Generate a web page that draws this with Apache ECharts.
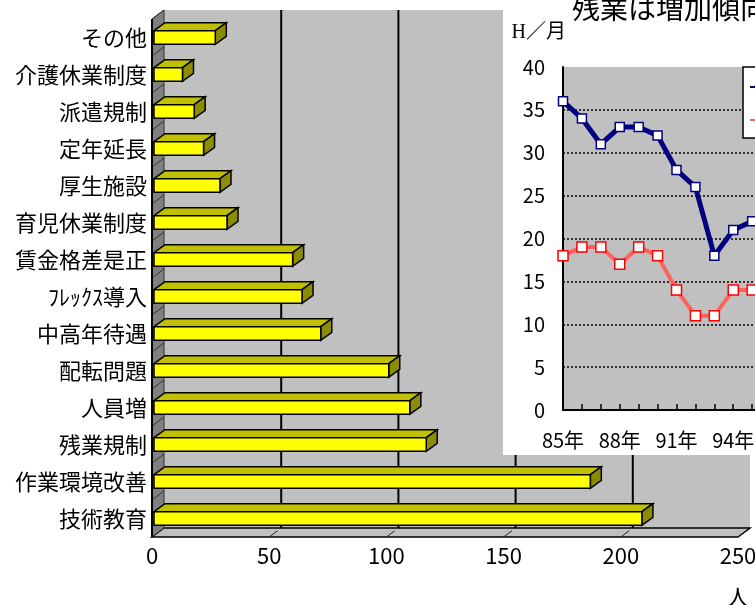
<!DOCTYPE html>
<html>
<head>
<meta charset="utf-8">
<script src="https://cdn.jsdelivr.net/npm/echarts@6/dist/echarts.min.js"></script>
<style>
  html, body { margin: 0; padding: 0; background: #fff; }
  #chart { width: 755px; height: 605px; }
</style>
</head>
<body>
<div id="chart"></div>
<script>
// 要望項目別の回答人数（上から順）
const items = ['その他', '介護休業制度', '派遣規制', '定年延長', '厚生施設', '育児休業制度',
  '賃金格差是正', 'ﾌﾚｯｸｽ導入', '中高年待遇', '配転問題', '人員増', '残業規制', '作業環境改善', '技術教育'];
const counts = [27, 13, 18, 22, 29, 32, 60, 64, 72, 101, 110, 117, 187, 209];
const countTicks = [0, 50, 100, 150, 200, 250];

// 月間残業時間の推移
const years = [85, 86, 87, 88, 89, 90, 91, 92, 93, 94, 95];
const hoursMen = [36, 34, 31, 33, 33, 32, 28, 26, 18, 21, 22];
const hoursWomen = [18, 19, 19, 17, 19, 18, 14, 11, 11, 14, 14];
const hourTicks = [0, 5, 10, 15, 20, 25, 30, 35, 40];

const FONT = 'Noto Sans CJK JP';
const WALL_DEPTH = [12, -9];   // back wall offset from the front plane (px)
const BAR_DEPTH = [11, -8];    // extrusion of each bar (px)

// Back wall, left wall, floor and gridlines of the pseudo-3D bar panel
function renderFrame(params, api) {
  const cs = params.coordSys;
  const L = cs.x, T = cs.y, R = cs.x + cs.width, B = cs.y + cs.height;
  const dx = WALL_DEPTH[0], dy = WALL_DEPTH[1];
  const children = [];
  children.push({ type: 'rect', shape: { x: L + dx, y: T + dy, width: cs.width, height: cs.height },
    style: { fill: '#c0c0c0' } });
  countTicks.slice(1, -1).forEach(v => {
    const x = api.coord([v, 0])[0];
    children.push({ type: 'line', shape: { x1: x + dx, y1: T + dy, x2: x + dx, y2: B + dy },
      style: { stroke: '#000', lineWidth: 2 } });
  });
  children.push({ type: 'polygon', shape: { points: [[L, B], [R, B], [R + dx, B + dy], [L + dx, B + dy]] },
    style: { fill: '#c0c0c0', stroke: '#000', lineWidth: 1.5 } });
  countTicks.slice(1).forEach(v => {
    const x = api.coord([v, 0])[0];
    children.push({ type: 'line', shape: { x1: x, y1: B, x2: x + dx * 0.7, y2: B + dy * 0.7 },
      style: { stroke: '#222', lineWidth: 1 } });
  });
  children.push({ type: 'polygon', shape: { points: [[L, T], [L + dx, T + dy], [L + dx, B + dy], [L, B]] },
    style: { fill: '#808080', stroke: '#333', lineWidth: 1 } });
  const band = cs.height / items.length;
  for (let i = 0; i <= items.length; i++) {
    const y = T + i * band;
    children.push({ type: 'line', shape: { x1: L, y1: y, x2: L + dx, y2: y + dy },
      style: { stroke: '#333', lineWidth: 1 } });
  }
  children.push({ type: 'line', shape: { x1: L, y1: T, x2: L, y2: B },
    style: { stroke: '#000', lineWidth: 2 } });
  return { type: 'group', children };
}

// One extruded bar: top face, side face, then the yellow front face
function renderBar(params, api) {
  const v = api.value(0), c = api.value(1);
  const a = api.coord([0, c]), b = api.coord([v, c]);
  const band = api.size([0, 1])[1];
  const h = band * 0.37;
  const dx = BAR_DEPTH[0], dy = BAR_DEPTH[1];
  const x0 = a[0] + 2, x1 = b[0], y0 = a[1] - h / 2, y1 = a[1] + h / 2;
  const edge = { stroke: '#000', lineWidth: 1.5, lineJoin: 'miter' };
  return {
    type: 'group',
    children: [
      { type: 'polygon', shape: { points: [[x0, y0], [x0 + dx, y0 + dy], [x1 + dx, y0 + dy], [x1, y0]] },
        style: Object.assign({ fill: '#c0c000' }, edge) },
      { type: 'polygon', shape: { points: [[x1, y0], [x1 + dx, y0 + dy], [x1 + dx, y1 + dy], [x1, y1]] },
        style: Object.assign({ fill: '#8c8c00' }, edge) },
      { type: 'rect', shape: { x: x0, y: y0, width: x1 - x0, height: h },
        style: Object.assign({ fill: '#ffff00' }, edge) }
    ]
  };
}

const chart = echarts.init(document.getElementById('chart'), null, { renderer: 'canvas' });

chart.setOption({
  animation: false,
  backgroundColor: '#fff',
  textStyle: { fontFamily: FONT },
  title: {
    text: '残業は増加傾向',
    left: 572, top: -6, padding: 0, z: 14,
    textStyle: { fontFamily: FONT, fontSize: 28, fontWeight: 'normal', color: '#000' }
  },
  legend: {
    orient: 'vertical',
    left: 743, top: 67, z: 14,
    backgroundColor: '#fff', borderColor: '#000', borderWidth: 1.5, borderRadius: 0,
    padding: [12, 4, 10, 6], itemGap: 17, itemWidth: 28, itemHeight: 14,
    textStyle: { fontFamily: FONT, fontSize: 16, color: '#000' },
    data: ['男性', '女性']
  },
  graphic: [
    { type: 'rect', z: 10, shape: { x: 503, y: 0, width: 260, height: 455 },
      style: { fill: '#fff' } },
    { type: 'text', z: 10, x: 738, y: 597,
      style: { text: '人', fontFamily: FONT, fontSize: 22, fill: '#000', align: 'center', verticalAlign: 'middle' } }
  ],
  grid: [
    { left: 152, top: 19, width: 586, height: 518, outerBoundsMode: 'none' },
    { left: 563, top: 67, right: 0, height: 343, show: true, backgroundColor: '#c0c0c0',
      borderWidth: 0, z: 11, outerBoundsMode: 'none' }
  ],
  xAxis: [
    {
      type: 'value', gridIndex: 0,
      min: countTicks[0], max: countTicks[countTicks.length - 1],
      interval: countTicks[1] - countTicks[0],
      axisLine: { show: false }, axisTick: { show: false }, splitLine: { show: false },
      axisLabel: { fontFamily: FONT, fontSize: 22, color: '#000', margin: 8 }
    },
    {
      type: 'value', gridIndex: 1, min: years[0], max: 95.15, interval: 1, z: 12,
      axisLine: { lineStyle: { color: '#000', width: 2 } },
      axisTick: { inside: true, length: 6, lineStyle: { color: '#000', width: 1.5 } },
      splitLine: { show: false },
      axisLabel: {
        fontFamily: FONT, fontSize: 20, color: '#000', margin: 20,
        showMaxLabel: false,
        formatter: v => ((v - years[0]) % 3 === 0 ? v + '年' : '')
      }
    }
  ],
  yAxis: [
    {
      type: 'category', gridIndex: 0, data: items, inverse: true,
      axisLine: { show: false }, axisTick: { show: false }, splitLine: { show: false },
      axisLabel: { fontFamily: FONT, fontSize: 22, color: '#000', margin: 5 }
    },
    {
      type: 'value', gridIndex: 1,
      min: hourTicks[0], max: hourTicks[hourTicks.length - 1], interval: hourTicks[1] - hourTicks[0], z: 12,
      name: 'H／月', nameLocation: 'end', nameGap: 24,
      nameTextStyle: { fontFamily: 'Liberation Serif, ' + FONT, fontSize: 20, color: '#000', align: 'right',
        padding: [0, -3, 0, 0] },
      axisLine: { show: true, lineStyle: { color: '#000', width: 2 } },
      axisTick: { show: false },
      axisLabel: { fontFamily: FONT, fontSize: 20, color: '#000', margin: 18 },
      splitLine: {
        show: true,
        lineStyle: {
          color: hourTicks.map((t, i) => (i === hourTicks.length - 1 ? 'rgba(0,0,0,0)' : '#000')),
          width: 1.5, type: [2, 2]
        }
      }
    }
  ],
  series: [
    {
      type: 'custom', name: 'frame', coordinateSystem: 'cartesian2d', xAxisIndex: 0, yAxisIndex: 0,
      z: 1, silent: true, data: [[0, 0]], renderItem: renderFrame
    },
    {
      type: 'custom', name: 'counts', coordinateSystem: 'cartesian2d', xAxisIndex: 0, yAxisIndex: 0,
      z: 3, encode: { x: 0, y: 1 },
      data: counts.map((v, i) => [v, i]), renderItem: renderBar
    },
    {
      type: 'line', name: '男性', xAxisIndex: 1, yAxisIndex: 1, z: 13,
      data: years.map((y, i) => [y, hoursMen[i]]),
      lineStyle: { color: '#000080', width: 5 },
      symbol: 'rect', symbolSize: 9, showAllSymbol: true,
      itemStyle: { color: '#fff', borderColor: '#000080', borderWidth: 1.5 }
    },
    {
      type: 'line', name: '女性', xAxisIndex: 1, yAxisIndex: 1, z: 13,
      data: years.map((y, i) => [y, hoursWomen[i]]),
      lineStyle: { color: '#ff6060', width: 4 },
      symbol: 'rect', symbolSize: 10, showAllSymbol: true,
      itemStyle: { color: '#fff', borderColor: '#ff0000', borderWidth: 1.5 }
    }
  ]
});
</script>
</body>
</html>
